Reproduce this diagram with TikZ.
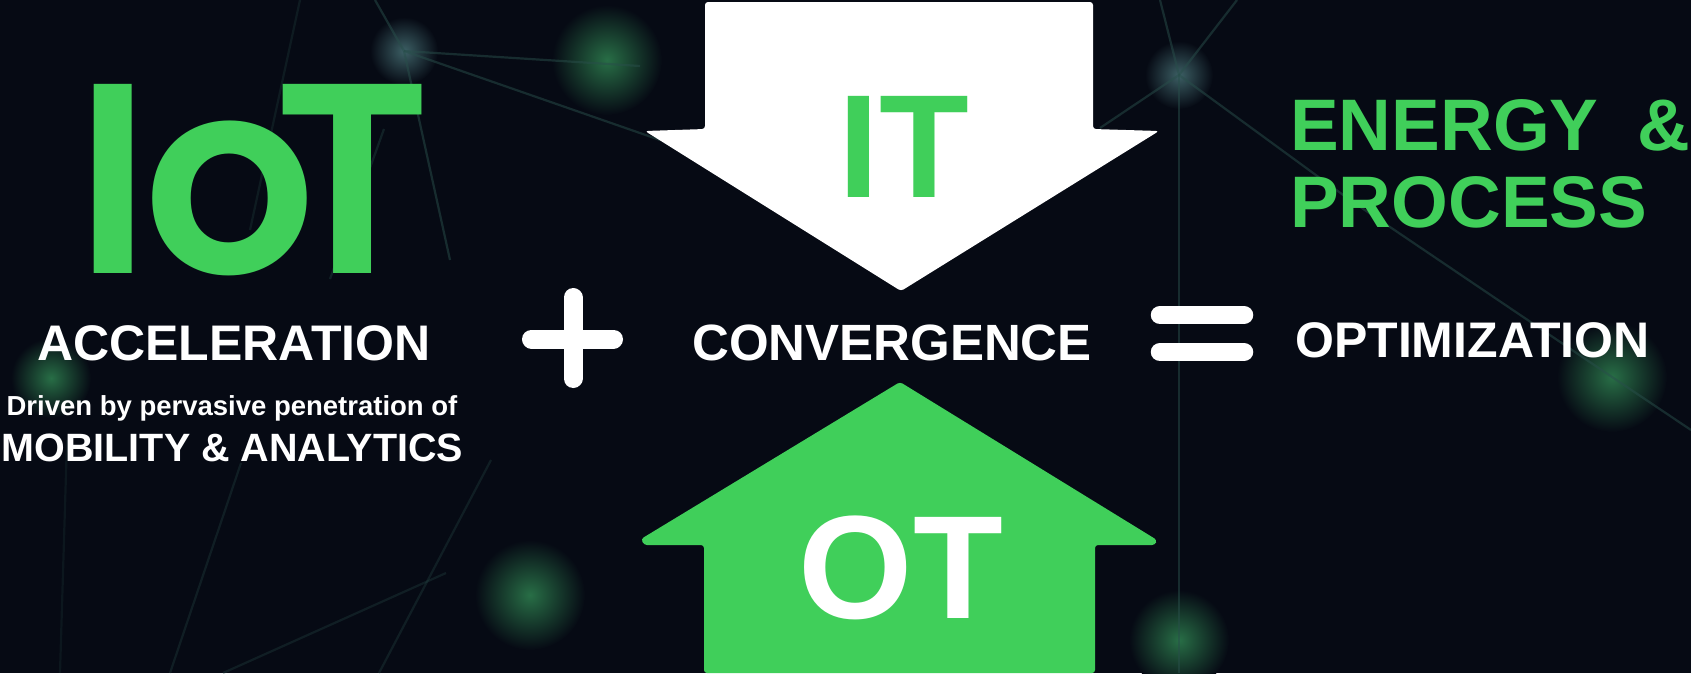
\documentclass[tikz,border=0pt]{standalone}
\usepackage{fontspec}
\setmainfont{Liberation Sans}
\IfFontExistsTF{Poppins SemiBold}{\newfontfamily\iotfont{Poppins SemiBold}\newcommand\iotweight{\mdseries}}{%
  \IfFontExistsTF{Poppins Medium}{\newfontfamily\iotfont{Poppins Medium}\newcommand\iotweight{\mdseries}}{%
    \newfontfamily\iotfont{Poppins}\newcommand\iotweight{\bfseries}}}
\definecolor{bg}{RGB}{6,10,20}
\definecolor{brandgreen}{RGB}{64,207,90}
\definecolor{netline}{RGB}{40,78,74}
\definecolor{glowgreen}{RGB}{40,110,70}
\definecolor{glowblue}{RGB}{60,95,100}
\tikzset{
  txt/.style={inner sep=0pt, text=white, font=\bfseries},
  gtxt/.style={inner sep=0pt, text=brandgreen, font=\bfseries},
  iot/.style={inner sep=0pt, text=brandgreen, font=\iotfont\iotweight\fontsize{271}{271}\selectfont, anchor=base},
  net/.style={draw=netline, line width=2.2pt, opacity=0.5},
  glowg/.style={shading=radial, inner color=glowgreen, outer color=bg},
  glowb/.style={shading=radial, inner color=glowblue, outer color=bg},
  bigarrow/.style={rounded corners=3pt},
  symbol/.style={draw=white, line cap=round},
}
\begin{document}
\begin{tikzpicture}[x=1pt,y=-1pt]
\fill[bg] (0,0) rectangle (1691,673);
\useasboundingbox (0,0) rectangle (1691,673);
% glows
\shade[glowg] (607,60) circle[radius=55pt];
\shade[glowg] (530,595) circle[radius=55pt];
\shade[glowg] (1179,640) circle[radius=50pt];
\shade[glowg] (1612,377) circle[radius=55pt];
\shade[glowg] (51,378) circle[radius=40pt];
\shade[glowb] (404,51) circle[radius=34pt];
\shade[glowb] (1179,75) circle[radius=34pt];
% network lines
\coordinate (nA) at (404,51);
\coordinate (nB) at (1179,75);
\coordinate (nF) at (1612,377);
\draw[net] (375,0) -- (nA);
\draw[net] (nA) -- (640,66);
\draw[net] (nA) -- (660,140);
\draw[net] (nA) -- (450,260);
\draw[net, opacity=0.35] (384,129) -- (330,279);
\draw[net, opacity=0.3] (241,463) -- (170,673);
\draw[net, opacity=0.3] (446,573) -- (223,673);
\draw[net, opacity=0.3] (491,460) -- (379,673);
\draw[net, opacity=0.2] (67,440) -- (60,673);
\draw[net, opacity=0.25] (300,0) -- (250,230);
\draw[net] (1160,0) -- (nB);
\draw[net] (1237,0) -- (nB);
\draw[net] (nB) -- (1100,128);
\draw[net] (nB) -- (1179,673);
\draw[net] (nB) -- (1350,200) -- (nF) -- (1691,430);
% IoT
\node[iot] (iotI) at (113.5,273) {I};
\node[iot] (iotO) at (230,273) {o};
\node[iot] (iotT) at (352.5,273) {T};
% left texts
\node[txt, font=\bfseries\fontsize{50}{50}\selectfont, anchor=base] (accel) at (234,360) {ACCELERATION};
\node[txt, font=\bfseries\fontsize{27.5}{27.5}\selectfont, anchor=base] (driven) at (232,415) {Driven by pervasive penetration of};
\node[txt, font=\bfseries\fontsize{39.5}{39.5}\selectfont, anchor=base] (mobility) at (232.5,461) {MOBILITY \& ANALYTICS};
% plus
\draw[symbol, line width=19pt] (531.5,339) -- (613.5,339);
\draw[symbol, line width=19pt] (573,297.5) -- (573,378.5);
% IT arrow
\fill[white, bigarrow] (705,2) -- (1093,2) -- (1093,129) -- (1159,131) -- (901,291) -- (645,131) -- (705,129) -- cycle;
\node[gtxt, font=\bfseries\fontsize{147}{147}\selectfont, anchor=base] (it) at (903.5,197) {IT};
% OT arrow
\fill[brandgreen, bigarrow] (900,382) -- (1157,540) -- (1155,545) -- (1095,545) -- (1095,673) -- (704,673) -- (704,545) -- (644,545) -- (641,539) -- cycle;
\node[txt, font=\bfseries\fontsize{147}{147}\selectfont, anchor=base] (ot) at (901,618) {OT};
% convergence
\node[txt, font=\bfseries\fontsize{51}{51}\selectfont, anchor=base] (conv) at (892,360) {CONVERGENCE};
% equals
\draw[symbol, line width=18.5pt] (1160,315) -- (1244,315);
\draw[symbol, line width=18.5pt] (1160,352) -- (1244,352);
% right texts
\node[gtxt, font=\bfseries\fontsize{73}{73}\selectfont, anchor=base west] (energy) at (1290,150) {\makebox[400pt]{ENERGY\hfill\&}};
\node[gtxt, font=\bfseries\fontsize{73}{73}\selectfont, anchor=base west] (process) at (1290,227) {PROCESS};
\node[txt, font=\bfseries\fontsize{50}{50}\selectfont, anchor=base] (optim) at (1472.5,357.5) {OPTIMIZATION};
\end{tikzpicture}
\end{document}
